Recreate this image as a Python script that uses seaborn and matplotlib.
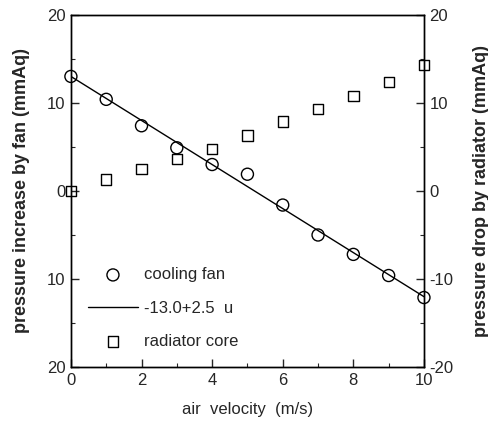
import matplotlib
matplotlib.use("Agg")
import matplotlib.pyplot as plt
import seaborn as sns
import numpy as np
import pandas as pd
from matplotlib.ticker import MultipleLocator, FixedLocator

velocity = [0, 1, 2, 3, 4, 5, 6, 7, 8, 9, 10]
fan_pressure = [13.0, 10.4, 7.4, 4.9, 3.0, 1.9, -1.6, -5.0, -7.2, -9.6, -12.1]
radiator_drop = [0.0, 1.3, 2.5, 3.6, 4.8, 6.3, 7.9, 9.3, 10.8, 12.4, 14.3]
fit_intercept = 13.0
fit_slope = -2.5
fit_label = "-13.0+2.5  u"
left_ticks = [-20, -10, 0, 10, 20]
left_ticklabels = ["20", "10", "0", "10", "20"]
right_ticklabels = ["-20", "-10", "0", "10", "20"]
x_ticks = [0, 2, 4, 6, 8, 10]

sns.set_style("ticks")
plt.rcParams['font.family'] = ['Liberation Sans', 'DejaVu Sans']

fig = plt.figure(figsize=(4.89, 4.22), dpi=100)
ax = fig.add_axes([0.145, 0.130, 0.722, 0.835])
ax2 = ax.twinx()

fit_x = np.array([velocity[0], velocity[-1]], dtype=float)
fit_df = pd.DataFrame({"u": fit_x, "p": fit_intercept + fit_slope * fit_x})
sns.lineplot(data=fit_df, x="u", y="p", ax=ax, color="black", linewidth=1.0,
             label=fit_label, legend=False)

fan_df = pd.DataFrame({"u": velocity, "p": fan_pressure})
sns.scatterplot(data=fan_df, x="u", y="p", ax=ax, marker="o", s=75,
                facecolor="none", edgecolor="black", linewidth=1.0,
                label="cooling fan", legend=False, zorder=3, clip_on=False)

rad_df = pd.DataFrame({"u": velocity, "p": radiator_drop})
sns.scatterplot(data=rad_df, x="u", y="p", ax=ax2, marker="s", s=55,
                facecolor="none", edgecolor="black", linewidth=1.0,
                label="radiator core", legend=False, zorder=3, clip_on=False)

for a in (ax, ax2):
    a.set_xlim(0, 10)
    a.set_ylim(-20, 20)
    for s in a.spines.values():
        s.set_linewidth(1.0)
        s.set_color("black")

ax.xaxis.set_major_locator(FixedLocator(x_ticks))
ax.xaxis.set_minor_locator(MultipleLocator(1))
ax.set_xticklabels([str(t) for t in x_ticks], fontsize=12)
ax.yaxis.set_major_locator(FixedLocator(left_ticks))
ax.yaxis.set_minor_locator(MultipleLocator(5))
ax.set_yticklabels(left_ticklabels, fontsize=12)
ax2.yaxis.set_major_locator(FixedLocator(left_ticks))
ax2.yaxis.set_minor_locator(MultipleLocator(5))
ax2.set_yticklabels(right_ticklabels, fontsize=12)

ax.tick_params(axis="both", which="major", direction="in", length=6, width=1.0, pad=4)
ax.tick_params(axis="both", which="minor", direction="in", length=3, width=0.8)
ax.tick_params(axis="x", top=False, which="both")
ax2.tick_params(axis="y", which="major", direction="in", length=6, width=1.0, pad=4)
ax2.tick_params(axis="y", which="minor", direction="in", length=3, width=0.8)

ax.set_xlabel("air  velocity  (m/s)", fontsize=12, labelpad=10)
ax.set_ylabel("pressure increase by fan (mmAq)", fontsize=13, fontweight="bold", labelpad=12)
ax2.set_ylabel("pressure drop by radiator (mmAq)", fontsize=13, fontweight="bold",
               rotation=90, labelpad=14)

h1, l1 = ax.get_legend_handles_labels()
h2, l2 = ax2.get_legend_handles_labels()
handles = {l: h for h, l in zip(h1 + h2, l1 + l2)}
order = ["cooling fan", fit_label, "radiator core"]
leg = ax2.legend([handles[k] for k in order], order, loc="lower left",
                 bbox_to_anchor=(0.007, 0.009), frameon=False, fontsize=12,
                 handlelength=2.95, labelspacing=1.1, handletextpad=0.4)

fig.savefig("out.png", dpi=100)
